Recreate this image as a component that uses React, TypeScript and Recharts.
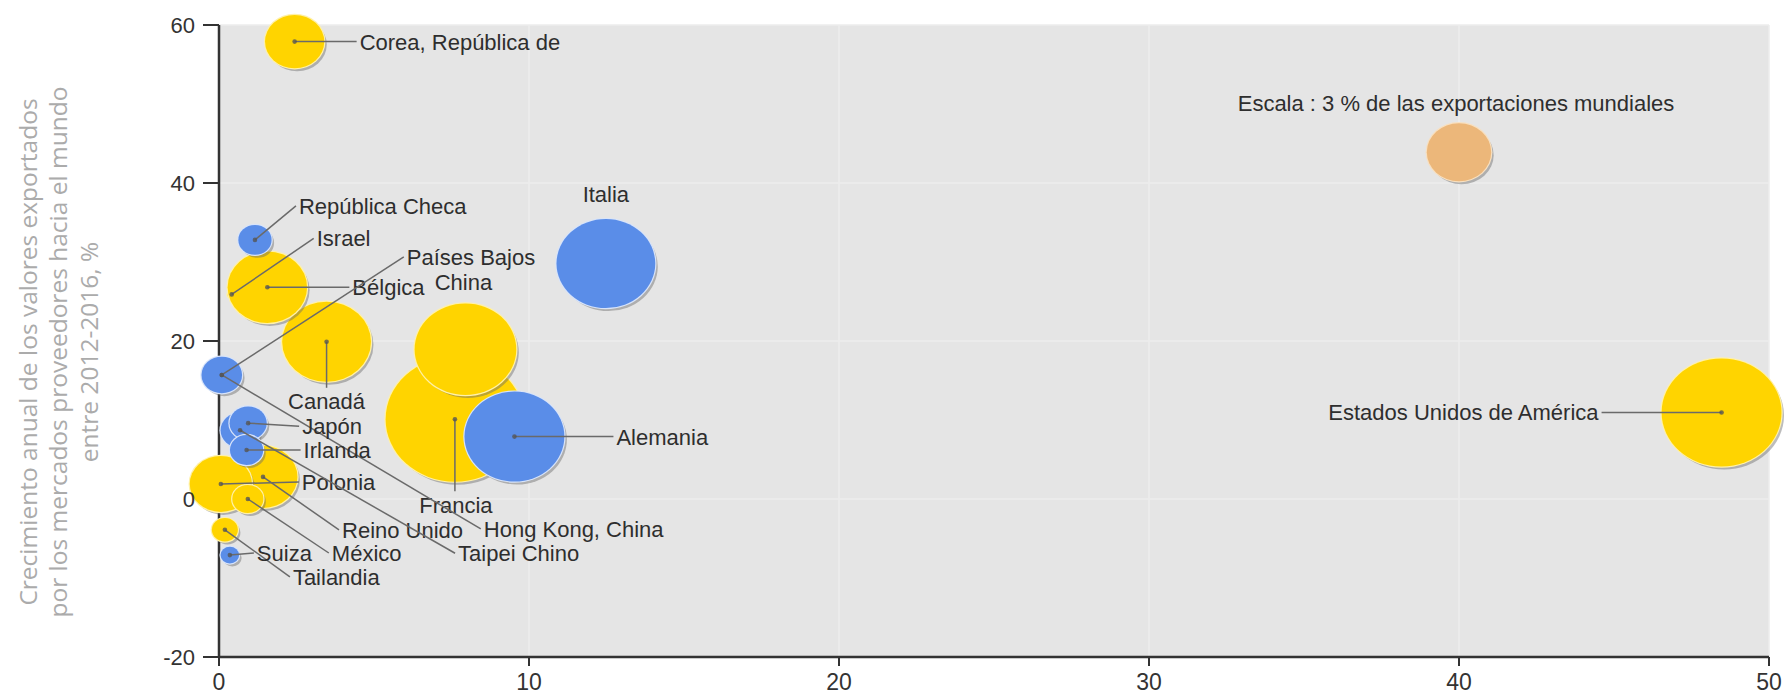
import React from "react";
import { ScatterChart, Scatter, XAxis, YAxis, ZAxis, CartesianGrid } from "recharts";

// ---------- data ----------
const countries = [
  "Francia", "Estados Unidos de América", "China", "Canadá", "Israel", "Bélgica",
  "Reino Unido", "Polonia", "Corea, República de", "México", "Tailandia",
  "Italia", "Alemania", "Hong Kong, China", "Países Bajos", "Taipei Chino",
  "Japón", "Irlanda", "República Checa", "Suiza",
  "Escala : 3 % de las exportaciones mundiales",
];
const groups = [
  "Y", "Y", "Y", "Y", "Y", "Y", "Y", "Y", "Y", "Y", "Y",
  "B", "B", "B", "B", "B", "B", "B", "B", "B",
  "S",
];
// x axis: market share related value (0-50)
const xValues = [7.61, 48.47, 7.95, 3.47, 0.41, 1.56, 1.42, 0.06, 2.44, 0.93, 0.19, 12.48, 9.53, 0.09, 0.09, 0.68, 0.94, 0.89, 1.16, 0.35, 40.0];
// y axis: annual growth of supplying markets' exports to the world 2012-2016, %
const yValues = [10.1, 10.95, 18.96, 19.9, 25.9, 26.8, 2.8, 1.9, 57.9, 0.0, -3.9, 29.8, 7.9, 15.7, 15.7, 8.7, 9.6, 6.2, 32.8, -7.1, 43.9];
// bubble size: share of world exports, %
const exportShares = [13.9, 10.4, 7.48, 5.71, 0.05, 4.57, 3.43, 2.8, 2.54, 0.7, 0.49, 7.06, 7.22, 0.6, 1.19, 1.1, 1.0, 0.8, 0.8, 0.25, 3];

const xTicks = [0, 10, 20, 30, 40, 50];
const yTicks = [-20, 0, 20, 40, 60];
const yTitleLines = [
  "Crecimiento anual de los valores exportados",
  "por los mercados proveedores hacia el mundo",
  "entre 2012-2016, %",
];

const rows = countries.map((name, i) => ({
  name,
  group: groups[i],
  x: xValues[i],
  y: yValues[i],
  z: exportShares[i],
}));

// ---------- styles / layout ----------
const COLORS: Record<string, string> = { Y: "#FFD400", B: "#5A8DE8", S: "#ECB77A" };
const HALO: Record<string, string> = { Y: "#FFF1A8", B: "#D8E4FA", S: "#F8E0C0" };
const ASPECT = 1.11;
const FONT = "'Liberation Sans', Arial, sans-serif";
const LABEL_FS = 22;

type LabelCfg = { dx: number; dy: number; anchor: "start" | "middle" | "end"; line: boolean; lineEnd?: [number, number] };
const labelLayout: Record<string, LabelCfg> = {
  "Francia": { dx: 1, dy: 86, anchor: "middle", line: true, lineEnd: [0, 72] },
  "Estados Unidos de América": { dx: -123, dy: 0, anchor: "end", line: true },
  "China": { dx: -2, dy: -67, anchor: "middle", line: false },
  "Canadá": { dx: 0, dy: 59, anchor: "middle", line: true, lineEnd: [0, 46] },
  "Israel": { dx: 85, dy: -56, anchor: "start", line: true },
  "Bélgica": { dx: 85, dy: 0, anchor: "start", line: true },
  "Reino Unido": { dx: 79, dy: 53, anchor: "start", line: true },
  "Polonia": { dx: 81, dy: -2, anchor: "start", line: true },
  "Corea, República de": { dx: 65, dy: 0, anchor: "start", line: true },
  "México": { dx: 84, dy: 54, anchor: "start", line: true },
  "Tailandia": { dx: 68, dy: 47, anchor: "start", line: true },
  "Italia": { dx: 0, dy: -70, anchor: "middle", line: false },
  "Alemania": { dx: 102, dy: 0, anchor: "start", line: true },
  "Hong Kong, China": { dx: 262, dy: 154, anchor: "start", line: true },
  "Países Bajos": { dx: 185, dy: -118, anchor: "start", line: true },
  "Taipei Chino": { dx: 218, dy: 123, anchor: "start", line: true },
  "Japón": { dx: 54, dy: 3, anchor: "start", line: true },
  "Irlanda": { dx: 57, dy: 0, anchor: "start", line: true },
  "República Checa": { dx: 44, dy: -34, anchor: "start", line: true },
  "Suiza": { dx: 27, dy: -2, anchor: "start", line: true },
  "Escala : 3 % de las exportaciones mundiales": { dx: -3, dy: -49, anchor: "middle", line: false },
};

const radiusOf = (p: any) => {
  if (typeof p.size === "number") return Math.sqrt(Math.max(p.size, 0) / Math.PI);
  if (typeof p.width === "number") return p.width / 2;
  return 5;
};

const Bubble = (props: any) => {
  const { cx, cy, payload } = props;
  if (cx == null || cy == null) return <g />;
  const ry = radiusOf(props);
  const rx = ry * ASPECT;
  const g = payload.group;
  return (
    <g>
      <ellipse cx={cx + 2.5} cy={cy + 3} rx={rx} ry={ry} fill="#6a6a6a" opacity={0.45} />
      <ellipse cx={cx} cy={cy} rx={rx + 1.2} ry={ry + 1.2} fill={HALO[g]} />
      <ellipse cx={cx} cy={cy} rx={rx} ry={ry} fill={COLORS[g]} />
    </g>
  );
};

const LabelMark = (props: any) => {
  const { cx, cy, payload } = props;
  const cfg = labelLayout[payload.name];
  if (!cfg || cx == null) return <g />;
  const tx = cx + cfg.dx;
  const ty = cy + cfg.dy;
  let lx = tx, ly = ty;
  if (cfg.lineEnd) { lx = cx + cfg.lineEnd[0]; ly = cy + cfg.lineEnd[1]; }
  else if (cfg.anchor === "start") lx = tx - 3;
  else if (cfg.anchor === "end") lx = tx + 3;
  return (
    <g>
      {cfg.line && (
        <>
          <line x1={cx} y1={cy} x2={lx} y2={ly} stroke="#6a6a6a" strokeWidth={1.5} />
          <circle cx={cx} cy={cy} r={2.3} fill="#555" opacity={0.8} />
        </>
      )}
      <text x={tx} y={ty + LABEL_FS * 0.36} textAnchor={cfg.anchor} fontSize={LABEL_FS} fontFamily={FONT} fill="#2e2e2e">
        {payload.name}
      </text>
    </g>
  );
};

export default function App() {
  return (
    <div style={{ position: "absolute", left: 0, top: 0, width: 1785, height: 695, background: "#fff" }}>
      <ScatterChart width={1785} height={695} margin={{ top: 25, right: 16, bottom: 8, left: 149 }}>
        <CartesianGrid fill="#E5E5E5" stroke="#EDEDED" strokeWidth={1.5} />
        <XAxis
          type="number"
          dataKey="x"
          domain={[0, 50]}
          ticks={xTicks}
          height={30}
          axisLine={{ stroke: "#333", strokeWidth: 2.5 }}
          tickLine={{ stroke: "#333", strokeWidth: 2 }}
          tickSize={9}
          tickMargin={8}
          tick={{ fill: "#333", fontSize: 23, fontFamily: FONT }}
        />
        <YAxis
          type="number"
          dataKey="y"
          domain={[-20, 60]}
          ticks={yTicks}
          width={70}
          axisLine={{ stroke: "#333", strokeWidth: 2.5 }}
          tickLine={{ stroke: "#333", strokeWidth: 2 }}
          tickSize={16}
          tickMargin={8}
          tick={{ fill: "#333", fontSize: 22, fontFamily: FONT }}
        />
        <ZAxis type="number" dataKey="z" domain={[0, 30]} range={[0, 26418]} />
        <Scatter data={rows} shape={Bubble} isAnimationActive={false} />
        <Scatter data={rows} shape={LabelMark} isAnimationActive={false} />
      </ScatterChart>
      <svg width={130} height={695} style={{ position: "absolute", left: 0, top: 0 }}>
        {yTitleLines.map((t, i) => {
          const x = 27 + i * 30.5;
          const y = 352;
          return (
            <text
              key={i}
              x={x}
              y={y}
              transform={`rotate(-90 ${x} ${y})`}
              textAnchor="middle"
              dominantBaseline="central"
              fontSize={24.5}
              fontFamily="'Open Sans', sans-serif"
              fill="#ABABAB"
            >
              {t}
            </text>
          );
        })}
      </svg>
    </div>
  );
}
